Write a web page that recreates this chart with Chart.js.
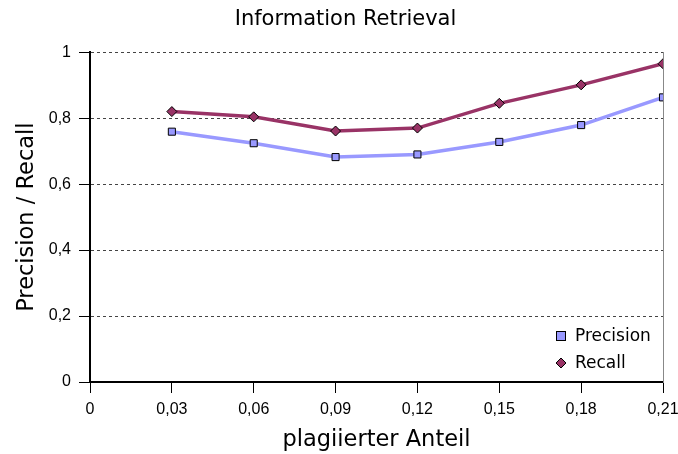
<!DOCTYPE html>
<html>
<head>
<meta charset="utf-8">
<script src="https://cdn.jsdelivr.net/npm/chart.js@4"></script>
<style>
  html, body { margin: 0; padding: 0; background: #fff; }
  #wrap { position: relative; width: 678px; height: 454px; }
</style>
</head>
<body>
<div id="wrap"><canvas id="chart" width="678" height="454"></canvas></div>
<script>
// ------------------- Data -------------------
const xValues = [0.03, 0.06, 0.09, 0.12, 0.15, 0.18, 0.21];
const precision = [0.759, 0.724, 0.682, 0.690, 0.728, 0.779, 0.863];
const recall = [0.820, 0.804, 0.761, 0.770, 0.845, 0.901, 0.965];
const xTicks = [0, 0.03, 0.06, 0.09, 0.12, 0.15, 0.18, 0.21];
const yTicks = [0, 0.2, 0.4, 0.6, 0.8, 1];

const toPoints = ys => xValues.map((x, i) => ({ x: x, y: ys[i] }));
const comma = v => String(+v.toFixed(2)).replace('.', ',');

// ------------------- Plugin: legend inside plot -------------------
const innerLegend = {
  id: 'innerLegend',
  afterDatasetsDraw(chart) {
    const ctx = chart.ctx;
    const items = [
      { label: 'Precision', ds: chart.data.datasets[0], y: 336 },
      { label: 'Recall', ds: chart.data.datasets[1], y: 363 }
    ];
    ctx.save();
    ctx.font = '17px "DejaVu Sans", Verdana, sans-serif';
    ctx.textBaseline = 'middle';
    items.forEach(it => {
      ctx.fillStyle = it.ds.pointBackgroundColor;
      ctx.strokeStyle = '#000';
      ctx.lineWidth = 1;
      const cx = 561, cy = it.y;
      if (it.ds.pointStyle === 'rect') {
        ctx.fillRect(cx - 4.5, cy - 4.5, 9, 9);
        ctx.strokeRect(cx - 4.5, cy - 4.5, 9, 9);
      } else {
        ctx.beginPath();
        ctx.moveTo(cx, cy - 5); ctx.lineTo(cx + 5, cy);
        ctx.lineTo(cx, cy + 5); ctx.lineTo(cx - 5, cy);
        ctx.closePath(); ctx.fill(); ctx.stroke();
      }
      ctx.fillStyle = '#000';
      ctx.fillText(it.label, 575, cy + 1);
    });
    ctx.restore();
  }
};

const tickFont = { family: '"Liberation Sans", Arial, sans-serif', size: 16 };
const axisTitleFont = { family: '"DejaVu Sans", Verdana, sans-serif', size: 22.5 };

new Chart(document.getElementById('chart'), {
  type: 'line',
  data: {
    datasets: [{
      label: 'Precision',
      data: toPoints(precision),
      borderColor: '#9999FF',
      backgroundColor: '#9999FF',
      pointBackgroundColor: '#9999FF',
      pointBorderColor: '#000',
      pointBorderWidth: 1,
      pointStyle: 'rect',
      pointRadius: 5,
      borderWidth: 3.5,
      tension: 0
    }, {
      label: 'Recall',
      data: toPoints(recall),
      borderColor: '#993366',
      backgroundColor: '#993366',
      pointBackgroundColor: '#993366',
      pointBorderColor: '#000',
      pointBorderWidth: 1,
      pointStyle: 'rectRot',
      pointRadius: 5,
      borderWidth: 3.5,
      tension: 0
    }]
  },
  options: {
    responsive: false,
    animation: false,
    layout: { padding: { left: 13, right: 0, top: 0, bottom: 0 } },
    plugins: {
      legend: { display: false },
      tooltip: { enabled: false },
      title: {
        display: true,
        text: 'Information Retrieval',
        color: '#000',
        font: { family: '"DejaVu Sans", Verdana, sans-serif', size: 21, weight: 'normal' },
        padding: { top: 7, bottom: 20 }
      }
    },
    scales: {
      x: {
        type: 'linear',
        min: 0,
        max: 0.21,
        afterBuildTicks: axis => { axis.ticks = xTicks.map(v => ({ value: v })); },
        afterFit: axis => {
          axis.height = 72;
          axis.paddingLeft = 0;
          axis.paddingRight = 15;
        },
        ticks: { color: '#000', font: tickFont, padding: 7, callback: v => comma(v), maxRotation: 0, autoSkip: false },
        grid: { drawOnChartArea: false, drawTicks: true, tickLength: 11, tickColor: '#000', tickWidth: 1 },
        border: { color: '#000', width: 2 },
        title: { display: true, text: 'plagiierter Anteil', color: '#000', font: axisTitleFont, padding: { top: 0, bottom: 0 } }
      },
      y: {
        min: 0,
        max: 1,
        afterBuildTicks: axis => { axis.ticks = yTicks.map(v => ({ value: v })); },
        afterFit: axis => { axis.width = 77; },
        ticks: { color: '#000', font: tickFont, padding: 8, callback: v => comma(v) },
        grid: { color: '#444', lineWidth: 1, drawTicks: true, tickLength: 11, tickColor: '#000', tickBorderDash: [] },
        border: { color: '#000', width: 2, dash: [3, 3] },
        title: { display: true, text: 'Precision / Recall', color: '#000', font: axisTitleFont, padding: { top: 0.5, bottom: 0 } }
      },
      y2: {
        position: 'right',
        min: 0,
        max: 1,
        afterFit: axis => { axis.width = 0; },
        ticks: { display: false },
        grid: { drawOnChartArea: false, drawTicks: false },
        border: { color: '#888', width: 1 }
      }
    }
  },
  plugins: [innerLegend]
});
</script>
</body>
</html>
